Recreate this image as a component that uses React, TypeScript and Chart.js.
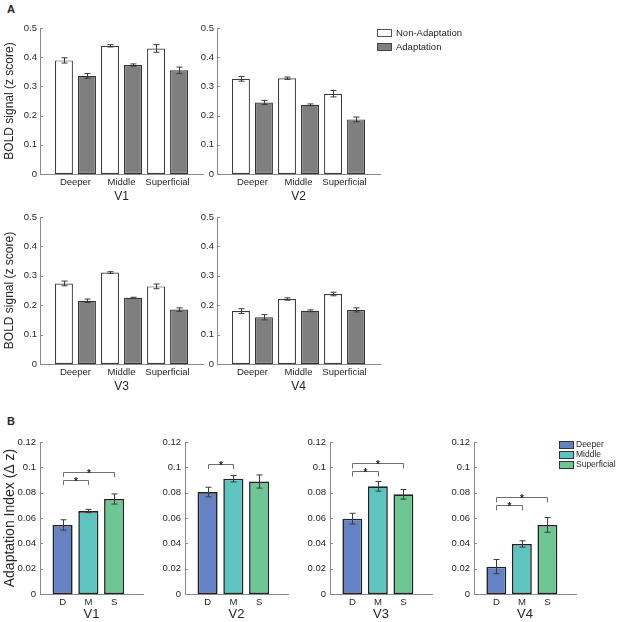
import React, { useEffect, useRef } from 'react';
import { Chart, registerables } from 'chart.js';

Chart.register(...registerables);

const FONT = "'Liberation Sans', Arial, Helvetica, sans-serif";
Chart.defaults.font.family = FONT;

// categories
const layers = ['Deeper', 'Middle', 'Superficial'];
const layerShort = ['D', 'M', 'S'];
const layerPos = [1, 2, 3];
const regions = ['V1', 'V2', 'V3', 'V4'];

// tick labels
const boldTicks = [0, 0.1, 0.2, 0.3, 0.4, 0.5];
const boldTickLabels = ['0', '0.1', '0.2', '0.3', '0.4', '0.5'];
const indexTicks = [0, 0.02, 0.04, 0.06, 0.08, 0.1, 0.12];
const indexTickLabels = ['0', '0.02', '0.04', '0.06', '0.08', '0.1', '0.12'];

// panel A: BOLD signal, one row per region (V1..V4), one value per layer
const nonAdaptMean = [
  [0.389, 0.439, 0.43],
  [0.326, 0.328, 0.275],
  [0.274, 0.311, 0.264],
  [0.18, 0.221, 0.238],
];
const nonAdaptErr = [
  [0.009, 0.004, 0.013],
  [0.008, 0.004, 0.011],
  [0.008, 0.003, 0.008],
  [0.008, 0.004, 0.006],
];
const adaptMean = [
  [0.336, 0.373, 0.355],
  [0.245, 0.237, 0.187],
  [0.215, 0.225, 0.185],
  [0.159, 0.181, 0.184],
];
const adaptErr = [
  [0.008, 0.004, 0.011],
  [0.007, 0.003, 0.008],
  [0.006, 0.002, 0.006],
  [0.009, 0.003, 0.007],
];

// panel B: adaptation index
const indexMean = [
  [0.0545, 0.0655, 0.075],
  [0.0805, 0.091, 0.0888],
  [0.0595, 0.085, 0.0787],
  [0.0216, 0.0395, 0.0545],
];
const indexErr = [
  [0.0041, 0.0013, 0.004],
  [0.0038, 0.0025, 0.0052],
  [0.0042, 0.0038, 0.0038],
  [0.0056, 0.0025, 0.0058],
];
// significance brackets: [from layer, to layer, height]
const sigBrackets = [
  [[0, 1, 0.09], [0, 2, 0.0963]],
  [[0, 1, 0.1026]],
  [[0, 1, 0.0968], [0, 2, 0.1031]],
  [[0, 1, 0.07], [0, 2, 0.0763]],
];

const layerColors = ['#6482c4', '#5ec4c0', '#6dc694'];
const TEXT = '#262626';
const AXIS = '#8a8a8a';

function errorBarPlugin(errors: number[][]) {
  return {
    id: 'errorBars',
    afterDatasetsDraw(chart: any) {
      const { ctx } = chart;
      const y = chart.scales.y;
      ctx.save();
      ctx.strokeStyle = '#3a3a3a';
      ctx.lineWidth = 1;
      chart.data.datasets.forEach((ds: any, i: number) => {
        const meta = chart.getDatasetMeta(i);
        meta.data.forEach((bar: any, j: number) => {
          const v = ds.data[j].y;
          const e = errors[i][j];
          const top = y.getPixelForValue(v + e);
          const bot = y.getPixelForValue(v - e);
          const x = Math.round(bar.x) + 0.5;
          ctx.beginPath();
          ctx.moveTo(x, top);
          ctx.lineTo(x, bot);
          ctx.moveTo(x - 3, top);
          ctx.lineTo(x + 3, top);
          ctx.moveTo(x - 3, bot);
          ctx.lineTo(x + 3, bot);
          ctx.stroke();
        });
      });
      ctx.restore();
    },
  };
}

const inwardTicks = {
  id: 'inwardTicks',
  afterDraw(chart: any) {
    const y = chart.scales.y;
    const ctx = chart.ctx;
    ctx.save();
    ctx.strokeStyle = AXIS;
    ctx.lineWidth = 1;
    y.ticks.forEach((t: any) => {
      const p = Math.round(y.getPixelForValue(t.value)) + 0.5;
      ctx.beginPath();
      ctx.moveTo(y.right, p);
      ctx.lineTo(y.right + 3, p);
      ctx.stroke();
    });
    ctx.restore();
  },
};

function bracketPlugin(brackets: number[][]) {
  return {
    id: 'sigBrackets',
    afterDatasetsDraw(chart: any) {
      const { ctx } = chart;
      const meta = chart.getDatasetMeta(0);
      const y = chart.scales.y;
      ctx.save();
      ctx.strokeStyle = '#6e6e6e';
      ctx.lineWidth = 1;
      ctx.fillStyle = '#222';
      ctx.font = `bold 10px ${FONT}`;
      ctx.textAlign = 'center';
      ctx.textBaseline = 'alphabetic';
      brackets.forEach(([a, b, level]) => {
        const x1 = Math.round(meta.data[a].x) + 0.5;
        const x2 = Math.round(meta.data[b].x) + 0.5;
        const yl = Math.round(y.getPixelForValue(level)) + 0.5;
        const yd = y.getPixelForValue(level - 0.004);
        ctx.beginPath();
        ctx.moveTo(x1, yd);
        ctx.lineTo(x1, yl);
        ctx.lineTo(x2, yl);
        ctx.lineTo(x2, yd);
        ctx.stroke();
        ctx.fillText('*', (x1 + x2) / 2, yl + 4);
      });
      ctx.restore();
    },
  };
}

function boldConfig(r: number, withTitle: boolean, yWidth: number, padRight: number): any {
  const bar = { borderSkipped: false, categoryPercentage: 1, barPercentage: 0.78, borderWidth: 1.2 };
  return {
    type: 'bar',
    data: {
      datasets: [
        {
          ...bar,
          label: 'Non-Adaptation',
          data: layerPos.map((x, i) => ({ x, y: nonAdaptMean[r][i] })),
          backgroundColor: '#ffffff',
          borderColor: '#3c3c3c',
        },
        {
          ...bar,
          label: 'Adaptation',
          data: layerPos.map((x, i) => ({ x, y: adaptMean[r][i] })),
          backgroundColor: '#7f7f7f',
          borderColor: '#333333',
        },
      ],
    },
    options: {
      animation: false,
      responsive: true,
      maintainAspectRatio: false,
      layout: { padding: { top: 10, right: padRight, left: 0, bottom: 0 } },
      plugins: { legend: { display: false }, tooltip: { enabled: false } },
      scales: {
        x: {
          type: 'linear',
          offset: false,
          min: 0.23,
          max: 3.77,
          afterBuildTicks: (s: any) => {
            s.ticks = layerPos.map((v) => ({ value: v }));
          },
          ticks: {
            callback: (_v: any, i: number) => layers[i],
            color: TEXT,
            font: { size: 9.5 },
            padding: 3,
            maxRotation: 0,
            autoSkip: false,
          },
          grid: { display: false, drawTicks: false },
          border: { color: AXIS },
          title: { display: true, text: regions[r], color: TEXT, font: { size: 12 }, padding: { top: 0, bottom: 2 } },
          afterFit: (s: any) => {
            s.height = 32;
          },
        },
        y: {
          min: 0,
          max: 0.5,
          afterBuildTicks: (s: any) => {
            s.ticks = boldTicks.map((v) => ({ value: v }));
          },
          ticks: { callback: (_v: any, i: number) => boldTickLabels[i], color: TEXT, font: { size: 9.5 }, padding: 3 },
          grid: { display: false, drawTicks: false },
          border: { color: AXIS },
          title: {
            display: withTitle,
            text: 'BOLD signal (z score)',
            color: TEXT,
            font: { size: 12 },
            padding: { top: 2, bottom: 0 },
          },
          afterFit: (s: any) => {
            s.width = yWidth;
          },
        },
      },
    },
    plugins: [errorBarPlugin([nonAdaptErr[r], adaptErr[r]]), inwardTicks],
  };
}

function indexConfig(r: number, withTitle: boolean, yWidth: number): any {
  return {
    type: 'bar',
    data: {
      datasets: [
        {
          label: 'Adaptation Index',
          data: layerPos.map((x, i) => ({ x, y: indexMean[r][i] })),
          backgroundColor: layerColors,
          borderColor: '#222222',
          borderWidth: 1.6,
          borderSkipped: false,
          categoryPercentage: 1,
          barPercentage: 0.78,
        },
      ],
    },
    options: {
      animation: false,
      responsive: true,
      maintainAspectRatio: false,
      layout: { padding: { top: 10, right: 3, left: 0, bottom: 0 } },
      plugins: { legend: { display: false }, tooltip: { enabled: false } },
      scales: {
        x: {
          type: 'linear',
          offset: false,
          min: 0.125,
          max: 4.12,
          afterBuildTicks: (s: any) => {
            s.ticks = layerPos.map((v) => ({ value: v }));
          },
          ticks: {
            callback: (_v: any, i: number) => layerShort[i],
            color: TEXT,
            font: { size: 9.5 },
            padding: 3,
            maxRotation: 0,
            autoSkip: false,
          },
          grid: { display: false, drawTicks: false },
          border: { color: AXIS },
          title: { display: true, text: regions[r], color: TEXT, font: { size: 13 }, padding: { top: 0, bottom: 0 } },
          afterFit: (s: any) => {
            s.height = 28;
          },
        },
        y: {
          min: 0,
          max: 0.12,
          afterBuildTicks: (s: any) => {
            s.ticks = indexTicks.map((v) => ({ value: v }));
          },
          ticks: { callback: (_v: any, i: number) => indexTickLabels[i], color: TEXT, font: { size: 9.5 }, padding: 4 },
          grid: { display: false, drawTicks: false },
          border: { color: AXIS },
          title: {
            display: withTitle,
            text: 'Adaptation Index (Δ z)',
            color: TEXT,
            font: { size: 14 },
            padding: { top: 2, bottom: 0 },
          },
          afterFit: (s: any) => {
            s.width = yWidth;
          },
        },
      },
    },
    plugins: [errorBarPlugin([indexErr[r]]), bracketPlugin(sigBrackets[r]), inwardTicks],
  };
}

function ChartBox({ left, top, width, height, make }: { left: number; top: number; width: number; height: number; make: () => any }) {
  const ref = useRef<HTMLCanvasElement>(null);
  useEffect(() => {
    if (!ref.current) return;
    const chart = new Chart(ref.current, make());
    return () => chart.destroy();
  }, []);
  return (
    <div style={{ position: 'absolute', left, top, width, height }}>
      <canvas ref={ref} />
    </div>
  );
}

const swatch = (bg: string, border: string, gap: number): React.CSSProperties => ({
  display: 'inline-block',
  width: 13,
  height: 6,
  background: bg,
  border: `1px solid ${border}`,
  marginRight: gap,
  verticalAlign: 'middle',
});

export default function App() {
  return (
    <div
      style={{
        position: 'fixed',
        left: 0,
        top: 0,
        width: 617,
        height: 622,
        overflow: 'hidden',
        background: '#fff',
        fontFamily: FONT,
        color: TEXT,
      }}
    >
      <div style={{ position: 'absolute', left: 7, top: 3, fontWeight: 'bold', fontSize: 11 }}>A</div>
      <div style={{ position: 'absolute', left: 7, top: 415, fontWeight: 'bold', fontSize: 11 }}>B</div>

      <ChartBox left={0} top={18} width={207} height={188} make={() => boldConfig(0, true, 40, 4)} />
      <ChartBox left={195} top={18} width={190} height={188} make={() => boldConfig(1, false, 22, 5)} />
      <ChartBox left={0} top={207} width={207} height={189} make={() => boldConfig(2, true, 40, 4)} />
      <ChartBox left={195} top={207} width={190} height={189} make={() => boldConfig(3, false, 22, 5)} />

      <ChartBox left={0} top={432} width={146} height={190} make={() => indexConfig(0, true, 40)} />
      <ChartBox left={150} top={432} width={141} height={190} make={() => indexConfig(1, false, 35)} />
      <ChartBox left={295} top={432} width={140} height={190} make={() => indexConfig(2, false, 35)} />
      <ChartBox left={439} top={432} width={140} height={190} make={() => indexConfig(3, false, 35)} />

      <div style={{ position: 'absolute', left: 377, top: 26, fontSize: 9.5, lineHeight: '13.5px' }}>
        <div>
          <span style={swatch('#ffffff', '#555', 4)} />
          Non-Adaptation
        </div>
        <div>
          <span style={swatch('#7f7f7f', '#444', 4)} />
          Adaptation
        </div>
      </div>

      <div style={{ position: 'absolute', left: 559, top: 439, fontSize: 8.5, lineHeight: '10px' }}>
        {layers.map((name, i) => (
          <div key={name} style={{ whiteSpace: 'nowrap' }}>
            <span style={swatch(layerColors[i], '#333', 2)} />
            {name}
          </div>
        ))}
      </div>
    </div>
  );
}
